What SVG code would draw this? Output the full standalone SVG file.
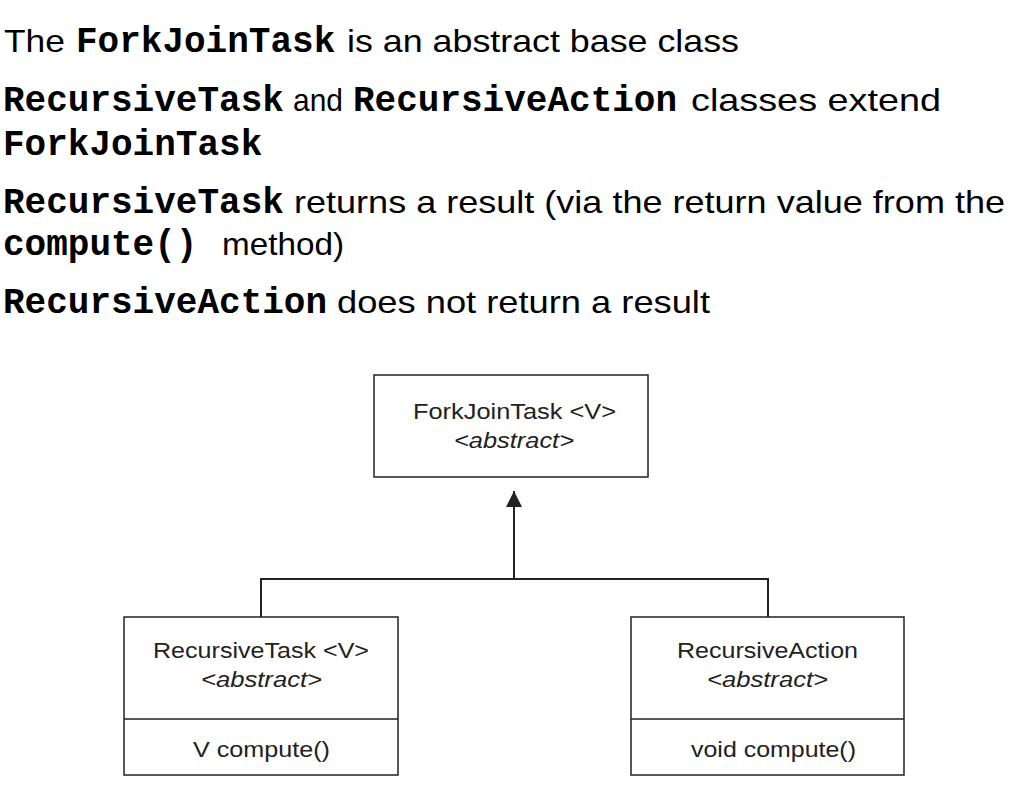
<svg xmlns="http://www.w3.org/2000/svg" width="1036" height="802" viewBox="0 0 1036 802">
<style>
.t{font-family:"Liberation Sans",Arial,sans-serif;font-size:32px;fill:#000}
.m{font-family:"Liberation Mono","Courier New",monospace;font-size:36px;font-weight:bold;fill:#000}
.box{fill:#fff;stroke:#222;stroke-width:1.5}
.lbl{font-family:"Liberation Sans",Arial,sans-serif;font-size:22px;fill:#222}
.it{font-style:italic}
.con{fill:none;stroke:#222;stroke-width:2}
</style>
<defs>
<marker id="ah" markerWidth="16" markerHeight="16" viewBox="0 0 16 16" refX="16" refY="8" orient="auto" markerUnits="userSpaceOnUse">
<path d="M0,0 L16,8 L0,16 Z" fill="#222"/>
</marker>
</defs>
<g id="header">
<text class="t" x="4" y="52" textLength="61" lengthAdjust="spacingAndGlyphs">The</text>
<text class="m" x="76" y="52">ForkJoinTask</text>
<text class="t" x="347" y="52" textLength="392" lengthAdjust="spacingAndGlyphs">is an abstract base class</text>

<text class="m" x="3" y="111">RecursiveTask</text>
<text class="t" x="293" y="111" textLength="50" lengthAdjust="spacingAndGlyphs">and</text>
<text class="m" x="353" y="111">RecursiveAction</text>
<text class="t" x="691" y="111" textLength="250" lengthAdjust="spacingAndGlyphs">classes extend</text>

<text class="m" x="3" y="155">ForkJoinTask</text>

<text class="m" x="3" y="213">RecursiveTask</text>
<text class="t" x="294" y="213" textLength="711" lengthAdjust="spacingAndGlyphs">returns a result (via the return value from the</text>

<text class="m" x="3" y="255">compute()</text>
<text class="t" x="222" y="255" textLength="122" lengthAdjust="spacingAndGlyphs">method)</text>

<text class="m" x="3" y="313">RecursiveAction</text>
<text class="t" x="337" y="313" textLength="373" lengthAdjust="spacingAndGlyphs">does not return a result</text>
</g>
<g id="connectors">
<path class="con" d="M261,617 V579 H768 V617"/>
<path class="con" d="M514,579 V491" marker-end="url(#ah)"/>
</g>
<g id="forkjointask">
<rect class="box" x="374" y="375" width="274" height="102"/>
<text class="lbl" x="413" y="419" textLength="203" lengthAdjust="spacingAndGlyphs">ForkJoinTask &lt;V&gt;</text>
<text class="lbl it" x="454" y="448" textLength="120" lengthAdjust="spacingAndGlyphs">&lt;abstract&gt;</text>
</g>
<g id="recursivetask">
<rect class="box" x="124" y="617" width="274" height="158"/>
<line class="box" x1="124" y1="719" x2="398" y2="719"/>
<text class="lbl" x="153" y="658" textLength="216" lengthAdjust="spacingAndGlyphs">RecursiveTask &lt;V&gt;</text>
<text class="lbl it" x="201" y="687" textLength="121" lengthAdjust="spacingAndGlyphs">&lt;abstract&gt;</text>
<text class="lbl" x="193" y="757" textLength="137" lengthAdjust="spacingAndGlyphs">V compute()</text>
</g>
<g id="recursiveaction">
<rect class="box" x="631" y="617" width="273" height="158"/>
<line class="box" x1="631" y1="719" x2="904" y2="719"/>
<text class="lbl" x="677" y="658" textLength="181" lengthAdjust="spacingAndGlyphs">RecursiveAction</text>
<text class="lbl it" x="707" y="687" textLength="121" lengthAdjust="spacingAndGlyphs">&lt;abstract&gt;</text>
<text class="lbl" x="691" y="757" textLength="165" lengthAdjust="spacingAndGlyphs">void compute()</text>
</g>
</svg>
